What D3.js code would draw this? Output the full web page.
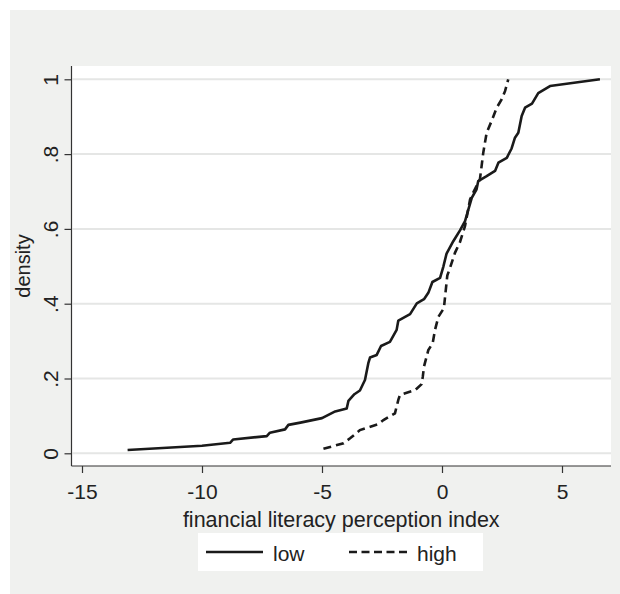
<!DOCTYPE html>
<html>
<head>
<meta charset="utf-8">
<script src="https://cdn.jsdelivr.net/npm/d3@7"></script>
<style>
  html, body { margin: 0; padding: 0; background: #ffffff; }
  svg { display: block; }
  text { font-family: "Liberation Sans", Arial, Helvetica, sans-serif; fill: #222; }
</style>
</head>
<body>
<div id="chart"></div>
<script>
// ---- data ----
const lowX = [-13.1, -10.0, -8.83, -8.7, -7.3, -7.17, -6.54, -6.4, -5.9, -5.0, -4.45, -3.97, -3.9, -3.65, -3.42, -3.21, -3.07, -3.0, -2.72, -2.54, -2.17, -1.89, -1.82, -1.33, -1.05, -0.75, -0.57, -0.4, -0.08, 0.06, 0.19, 0.47, 0.75, 0.96, 1.1, 1.24, 1.44, 1.51, 1.86, 2.21, 2.35, 2.7, 2.9, 3.04, 3.18, 3.32, 3.46, 3.75, 4.01, 4.5, 6.58];
const lowY = [0.009, 0.02, 0.028, 0.037, 0.046, 0.055, 0.064, 0.076, 0.082, 0.094, 0.112, 0.12, 0.14, 0.158, 0.168, 0.196, 0.241, 0.256, 0.263, 0.287, 0.298, 0.33, 0.355, 0.372, 0.401, 0.412, 0.429, 0.458, 0.469, 0.5, 0.534, 0.567, 0.596, 0.621, 0.652, 0.683, 0.706, 0.728, 0.741, 0.755, 0.777, 0.79, 0.815, 0.844, 0.857, 0.902, 0.924, 0.935, 0.963, 0.982, 1.0];
const highX = [-4.94, -4.1, -3.83, -3.42, -2.65, -2.44, -1.96, -1.82, -1.75, -1.12, -0.85, -0.8, -0.75, -0.57, -0.39, -0.29, -0.15, 0.08, 0.13, 0.22, 0.33, 0.54, 0.75, 0.96, 1.17, 1.3, 1.58, 1.65, 1.72, 1.86, 2.07, 2.28, 2.49, 2.63, 2.76];
const highY = [0.012, 0.027, 0.04, 0.062, 0.078, 0.089, 0.107, 0.143, 0.156, 0.169, 0.185, 0.205, 0.232, 0.276, 0.294, 0.33, 0.365, 0.388, 0.42, 0.475, 0.495, 0.536, 0.565, 0.608, 0.679, 0.697, 0.733, 0.768, 0.804, 0.857, 0.889, 0.924, 0.947, 0.969, 1.0];
const xTicks = [-15, -10, -5, 0, 5];
const yTicks = [0, 0.2, 0.4, 0.6, 0.8, 1];
const yTickLabels = ["0", ".2", ".4", ".6", ".8", "1"];
const seriesNames = ["low", "high"];
const xTitle = "financial literacy perception index";
const yTitle = "density";

// ---- layout ----
const W = 620, H = 594;
const plot = { left: 71.5, right: 611, top: 66, bottom: 466 };

const svg = d3.select("#chart").append("svg").attr("width", W).attr("height", H);

// outer background
svg.append("rect").attr("x", 10).attr("y", 10).attr("width", W - 10).attr("height", H - 10)
  .attr("fill", "#f0f1ef");
// plot region
svg.append("rect").attr("x", plot.left).attr("y", plot.top)
  .attr("width", plot.right - plot.left).attr("height", plot.bottom - plot.top)
  .attr("fill", "#ffffff");

const x = d3.scaleLinear().domain([-15, 5]).range([82, 562]);
const y = d3.scaleLinear().domain([0, 1]).range([453.3, 79.3]);

// gridlines
svg.append("g").selectAll("line").data(yTicks).join("line")
  .attr("x1", plot.left + 1).attr("x2", plot.right)
  .attr("y1", d => y(d)).attr("y2", d => y(d))
  .attr("stroke", "#e5e6e5").attr("stroke-width", 2);

// y axis
const yAxis = d3.axisLeft(y).tickValues(yTicks).tickFormat((d, i) => yTickLabels[i])
  .tickSize(7).tickSizeOuter(0).tickPadding(4);
const gy = svg.append("g").attr("transform", `translate(${plot.left},0)`).call(yAxis);
gy.select(".domain").attr("d", `M0,${plot.top}V${plot.bottom}`).attr("stroke", "#333").attr("stroke-width", 1.2);
gy.selectAll(".tick line").attr("stroke", "#333").attr("stroke-width", 1.2);
gy.selectAll(".tick text")
  .attr("x", 0).attr("dy", null)
  .attr("transform", "translate(-14,0) rotate(-90)")
  .attr("text-anchor", "middle")
  .attr("dominant-baseline", "auto")
  .attr("y", 0)
  .style("font-size", "21px")
  .style("fill", "#222");

// x axis
const xAxis = d3.axisBottom(x).tickValues(xTicks).tickFormat(d3.format("d"))
  .tickSize(7).tickSizeOuter(0).tickPadding(4);
const gx = svg.append("g").attr("transform", `translate(0,${plot.bottom})`).call(xAxis);
gx.select(".domain").attr("d", `M${plot.left},0H${plot.right}`).attr("stroke", "#333").attr("stroke-width", 1.2);
gx.selectAll(".tick line").attr("stroke", "#333").attr("stroke-width", 1.2);
gx.selectAll(".tick text").attr("dy", null).attr("y", 33)
  .style("font-size", "21px").style("fill", "#222")
  .text(d => d < 0 ? "-" + Math.abs(d) : String(d));

// axis titles
svg.append("text").attr("x", (plot.left + plot.right) / 2).attr("y", 527)
  .attr("text-anchor", "middle").style("font-size", "21.5px").text(xTitle);
svg.append("text").attr("transform", `translate(30,${(plot.top + plot.bottom) / 2}) rotate(-90)`)
  .attr("text-anchor", "middle").style("font-size", "20px").text(yTitle);

// lines
const line = d3.line().x(d => x(d[0])).y(d => y(d[1]));
const lowData = lowX.map((v, i) => [v, lowY[i]]);
const highData = highX.map((v, i) => [v, highY[i]]);
svg.append("path").datum(lowData).attr("d", line).attr("fill", "none")
  .attr("stroke", "#1a1a1a").attr("stroke-width", 2.6).attr("stroke-linejoin", "round");
svg.append("path").datum(highData).attr("d", line).attr("fill", "none")
  .attr("stroke", "#1a1a1a").attr("stroke-width", 2.6).attr("stroke-dasharray", "8,5");

// legend
svg.append("rect").attr("x", 198).attr("y", 533).attr("width", 285).attr("height", 38).attr("fill", "#ffffff");
const leg = [
  { name: seriesNames[0], x1: 206, x2: 263, tx: 273, dash: null },
  { name: seriesNames[1], x1: 349, x2: 407, tx: 417, dash: "8,4.5" }
];
leg.forEach(l => {
  svg.append("line").attr("x1", l.x1).attr("x2", l.x2).attr("y1", 552).attr("y2", 552)
    .attr("stroke", "#1a1a1a").attr("stroke-width", 2.6).attr("stroke-dasharray", l.dash);
  svg.append("text").attr("x", l.tx).attr("y", 561).style("font-size", "21px").text(l.name);
});
</script>
</body>
</html>
